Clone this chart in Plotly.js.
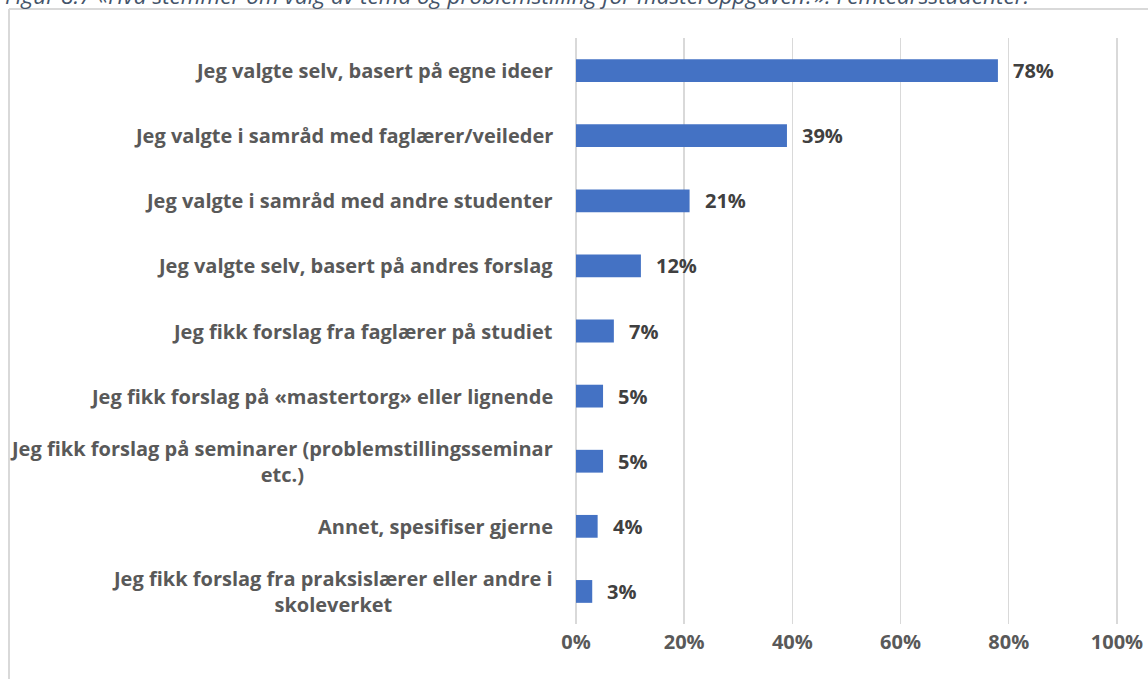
<!DOCTYPE html>
<html><head><meta charset="utf-8">
<script src="https://cdn.plot.ly/plotly-3.0.1.min.js"></script>
<style>html,body{margin:0;padding:0;background:#fff;}#chart{width:1148px;height:679px;}</style>
</head><body><div id="chart"></div>
<script>
const categories = [
  "Jeg valgte selv, basert på egne ideer",
  "Jeg valgte i samråd med faglærer/veileder",
  "Jeg valgte i samråd med andre studenter",
  "Jeg valgte selv, basert på andres forslag",
  "Jeg fikk forslag fra faglærer på studiet",
  "Jeg fikk forslag på «mastertorg» eller lignende",
  "Jeg fikk forslag på seminarer (problemstillingsseminar<br>etc.)",
  "Annet, spesifiser gjerne",
  "Jeg fikk forslag fra praksislærer eller andre i<br>skoleverket"
];
const values = [0.78, 0.39, 0.21, 0.12, 0.07, 0.05, 0.05, 0.04, 0.03];
const valueLabels = ["78%", "39%", "21%", "12%", "7%", "5%", "5%", "4%", "3%"];
const tickVals = [0, 0.2, 0.4, 0.6, 0.8, 1.0];
const tickText = ["0%", "20%", "40%", "60%", "80%", "100%"];
const caption = "Figur 8.7 «Hva stemmer om valg av tema og problemstilling for masteroppgaven?»: Femteårsstudenter.";

const FONT = "'Open Sans', sans-serif";
const ids = categories.map((c, i) => "c" + i);

const annotations = [];
categories.forEach((c, i) => {
  annotations.push({
    x: 0, y: ids[i], xref: "x", yref: "y", text: c, showarrow: false,
    xanchor: "right", yanchor: "middle", align: "center", xshift: -21,
    font: {family: FONT, size: 20, color: "#595959", weight: "bold"}
  });
  annotations.push({
    x: values[i], y: ids[i], xref: "x", yref: "y", text: valueLabels[i], showarrow: false,
    xanchor: "left", yanchor: "middle", xshift: 13,
    font: {family: FONT, size: 20, color: "#404040", weight: "bold"}
  });
});
annotations.push({
  x: 0, xref: "paper", y: 1, yref: "paper", text: caption, showarrow: false,
  xanchor: "left", yanchor: "middle", xshift: -573, yshift: 43,
  font: {family: FONT, size: 22.6, color: "#44546A", style: "italic"}
});

const trace = {
  type: "bar", orientation: "h",
  x: values, y: ids,
  marker: {color: "#4472C4"},
  hoverinfo: "skip"
};

const layout = {
  width: 1148, height: 679,
  margin: {l: 576, r: 30, t: 38, b: 55, pad: 0},
  paper_bgcolor: "#fff", plot_bgcolor: "#fff",
  showlegend: false,
  bargap: 0.65,
  xaxis: {
    range: [0, 1.002], tickvals: tickVals, ticktext: tickText,
    showgrid: true, gridcolor: "#d9d9d9", gridwidth: 1.5,
    zeroline: true, zerolinecolor: "#d9d9d9", zerolinewidth: 1.5,
    showline: false, ticks: "", fixedrange: true,
    tickfont: {family: FONT, size: 20, color: "#595959", weight: "bold"},
    ticklabelstandoff: 4
  },
  yaxis: {
    type: "category", autorange: "reversed", showticklabels: false,
    showgrid: false, zeroline: false, showline: false, ticks: ""
  },
  annotations: annotations,
  shapes: [
    {type: "line", xref: "paper", yref: "paper", x0: -567/542, x1: 2, y0: 1 + 29/586, y1: 1 + 29/586,
     line: {color: "#d9d9d9", width: 2}},
    {type: "line", xref: "paper", yref: "paper", x0: -567/542, x1: -567/542, y0: -1, y1: 1 + 29/586,
     line: {color: "#d9d9d9", width: 2}}
  ]
};

Plotly.newPlot("chart", [trace], layout, {displayModeBar: false, staticPlot: true});
</script></body></html>
